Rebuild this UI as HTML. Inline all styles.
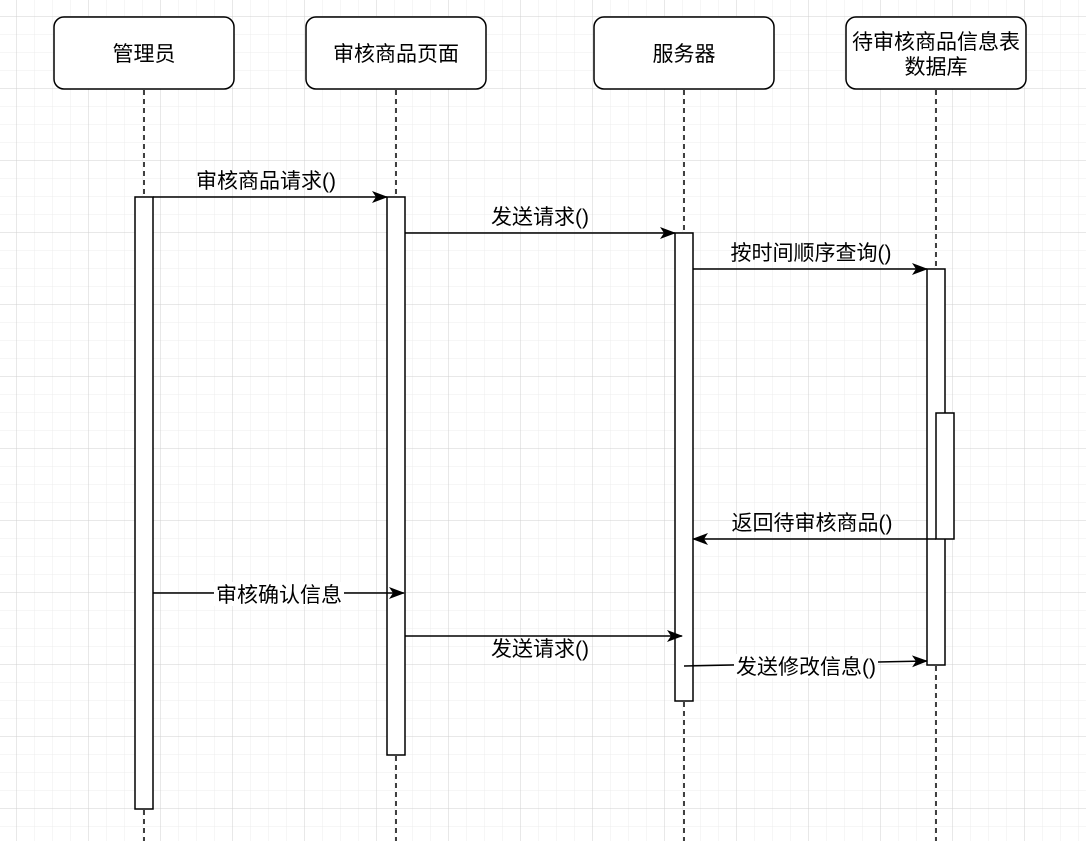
<!DOCTYPE html>
<html><head><meta charset="utf-8"><style>
body{margin:0;background:#fff}
svg text{font-family:"Liberation Sans","Noto Sans CJK SC",sans-serif;font-size:21px;fill:#000}
</style></head><body>
<svg width="1086" height="841" xmlns="http://www.w3.org/2000/svg">
<defs>
<pattern id="mi" width="18" height="18" patternUnits="userSpaceOnUse" x="16" y="16"><path d="M0 0H18M0 0V18" stroke="#ececec" stroke-width="1" fill="none"/></pattern>
<pattern id="ma" width="72" height="72" patternUnits="userSpaceOnUse" x="16" y="16"><path d="M0 0H72M0 0V72" stroke="#d0d0d0" stroke-width="1" fill="none"/></pattern>
<marker id="a" markerWidth="16" markerHeight="12" refX="15" refY="6" orient="auto" markerUnits="userSpaceOnUse"><path d="M0 0L16 6L0 12L4 6Z" fill="#000"/></marker>
</defs>
<rect width="1086" height="841" fill="url(#mi)"/>
<rect width="1086" height="841" fill="url(#ma)"/>
<g stroke="#000" stroke-width="1.5" stroke-dasharray="5 4" fill="none">
<path d="M144 90V841M396 90V841M684 90V841M936 90V841"/>
</g>
<g fill="#fff" stroke="#000" stroke-width="1.5">
<rect x="54" y="17" width="180" height="72" rx="10"/>
<rect x="306" y="17" width="180" height="72" rx="10"/>
<rect x="594" y="17" width="180" height="72" rx="10"/>
<rect x="846" y="17" width="180" height="72" rx="10"/>
<rect x="135" y="197" width="18" height="612"/>
<rect x="387" y="197" width="18" height="558"/>
<rect x="675" y="233" width="18" height="468"/>
<rect x="927" y="269" width="18" height="396"/>
<rect x="936" y="413" width="18" height="126"/>
</g>
<g text-anchor="middle">
<text x="144" y="61">管理员</text>
<text x="396" y="61">审核商品页面</text>
<text x="684" y="61">服务器</text>
<text x="936" y="49">待审核商品信息表</text>
<text x="936" y="74">数据库</text>
</g>
<g stroke="#000" stroke-width="1.5" fill="none" marker-end="url(#a)">
<path d="M153 197H387"/>
<path d="M405 233H675"/>
<path d="M693 269H927"/>
<path d="M936 539H693"/>
<path d="M153 593H404"/>
<path d="M405 636H682"/>
<path d="M684 666L927 661"/>
</g>
<g text-anchor="middle">
<text x="266" y="188">审核商品请求()</text>
<text x="540" y="224">发送请求()</text>
<text x="811" y="260">按时间顺序查询()</text>
<text x="812" y="530">返回待审核商品()</text>
<rect x="214" y="582" width="130" height="24" fill="#fff"/>
<text x="279" y="602">审核确认信息</text>
<text x="540" y="656">发送请求()</text>
<rect x="734" y="654" width="144" height="24" fill="#fff"/>
<text x="806" y="674">发送修改信息()</text>
</g>
</svg>
</body></html>
